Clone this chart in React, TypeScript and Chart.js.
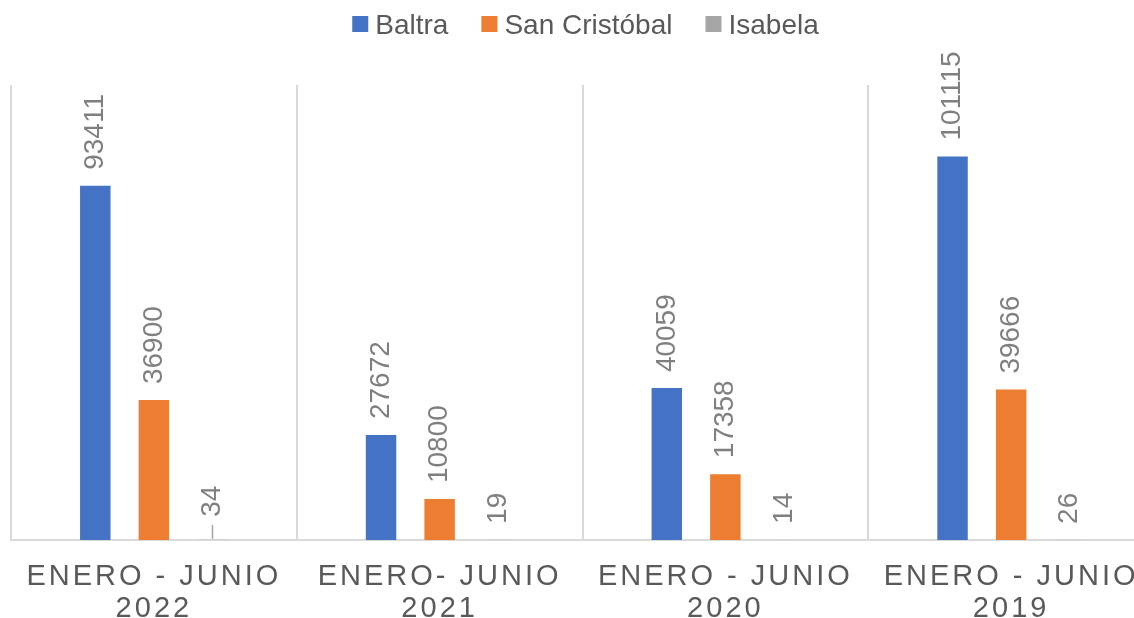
import React, { useEffect, useRef } from 'react';
import { Chart, registerables } from 'chart.js';

Chart.register(...registerables);

// ---- data ----
const periods = ['ENERO - JUNIO', 'ENERO- JUNIO', 'ENERO - JUNIO', 'ENERO - JUNIO'];
const years = ['2022', '2021', '2020', '2019'];
const seriesNames = ['Baltra', 'San Cristóbal', 'Isabela'];
const baltra = [93411, 27672, 40059, 101115];
const sanCristobal = [36900, 10800, 17358, 39666];
const isabela = [34, 19, 14, 26];
const yMax = 120000;

// ---- style ----
const FONT = '"Liberation Sans", Arial, Helvetica, sans-serif';
const colors = ['#4472C4', '#ED7D31', '#A5A5A5'];
const textColor = '#595959';
const labelColor = '#7F7F7F';
const gridColor = '#D9D9D9';

const overlayPlugin = {
  id: 'overlay',
  afterDatasetsDraw(chart: any) {
    const ctx: CanvasRenderingContext2D = chart.ctx;
    ctx.save();
    ctx.font = `28px ${FONT}`;
    ctx.fillStyle = labelColor;
    ctx.textAlign = 'left';
    ctx.textBaseline = 'middle';
    chart.data.datasets.forEach((ds: any, di: number) => {
      const meta = chart.getDatasetMeta(di);
      meta.data.forEach((bar: any, i: number) => {
        const v = ds.data[i];
        const leader = di === 2 && i === 0;
        const gap = leader ? 23 : 16;
        ctx.save();
        ctx.translate(bar.x, bar.y - gap);
        ctx.rotate(-Math.PI / 2);
        ctx.fillText(String(v), 0, 0);
        ctx.restore();
        if (leader) {
          ctx.save();
          ctx.strokeStyle = '#A6A6A6';
          ctx.lineWidth = 1.5;
          ctx.beginPath();
          ctx.moveTo(bar.x, bar.y - 1);
          ctx.lineTo(bar.x, bar.y - 15);
          ctx.stroke();
          ctx.restore();
        }
      });
    });
    ctx.restore();
  },
  afterDraw(chart: any) {
    const ctx: any = chart.ctx;
    const area = chart.chartArea;
    const xScale = chart.scales.x;
    // category labels
    ctx.save();
    ctx.font = `29px ${FONT}`;
    ctx.fillStyle = textColor;
    ctx.textAlign = 'center';
    ctx.textBaseline = 'alphabetic';
    try { ctx.letterSpacing = '3px'; } catch (e) {}
    chart.data.labels.forEach((lab: string[], i: number) => {
      const x = xScale.getPixelForValue(i);
      ctx.fillText(lab[0], x, area.bottom + 45);
      ctx.fillText(lab[1], x, area.bottom + 77);
    });
    ctx.restore();

    // legend
    ctx.save();
    ctx.font = `28px ${FONT}`;
    ctx.textBaseline = 'alphabetic';
    ctx.textAlign = 'left';
    const box = 16, boxGap = 7, itemGap = 33;
    const items = chart.data.datasets.map((ds: any) => ({
      text: ds.label,
      color: ds.backgroundColor,
      w: ctx.measureText(ds.label).width,
    }));
    const total = items.reduce((s: number, it: any) => s + box + boxGap + it.w, 0) + itemGap * (items.length - 1);
    let x = (area.left + area.right) / 2 + 3 - total / 2;
    items.forEach((it: any) => {
      ctx.fillStyle = it.color;
      ctx.fillRect(x, 16, box, box);
      x += box + boxGap;
      ctx.fillStyle = textColor;
      ctx.fillText(it.text, x, 34);
      x += it.w + itemGap;
    });
    ctx.restore();
  },
};

export default function App() {
  const canvasRef = useRef<HTMLCanvasElement | null>(null);

  useEffect(() => {
    document.body.style.margin = '0';
    const canvas = canvasRef.current;
    if (!canvas) return;
    const seriesValues = [baltra, sanCristobal, isabela];
    const chart = new Chart(canvas, {
      type: 'bar',
      data: {
        labels: periods.map((p, i) => [p, years[i]]),
        datasets: seriesNames.map((name, i) => ({
          label: name,
          data: seriesValues[i],
          backgroundColor: colors[i],
          borderWidth: 0,
          barPercentage: 0.52,
          categoryPercentage: 0.615,
        })),
      },
      options: {
        responsive: false,
        animation: false,
        devicePixelRatio: 1,
        layout: { padding: { left: 11, right: 16, top: 85, bottom: 78 } },
        plugins: {
          legend: { display: false },
          tooltip: { enabled: false },
        },
        scales: {
          x: {
            offset: true,
            grid: { color: gridColor, lineWidth: 2, drawTicks: false, offset: true },
            border: { color: gridColor, width: 2 },
            ticks: { display: false },
          },
          y: { display: false, min: 0, max: yMax },
        },
      },
      plugins: [overlayPlugin],
    });
    return () => chart.destroy();
  }, []);

  return (
    <div style={{ width: 1134, height: 618, overflow: 'hidden', position: 'relative', background: '#fff' }}>
      <canvas ref={canvasRef} width={1170} height={618} style={{ display: 'block' }} />
    </div>
  );
}
